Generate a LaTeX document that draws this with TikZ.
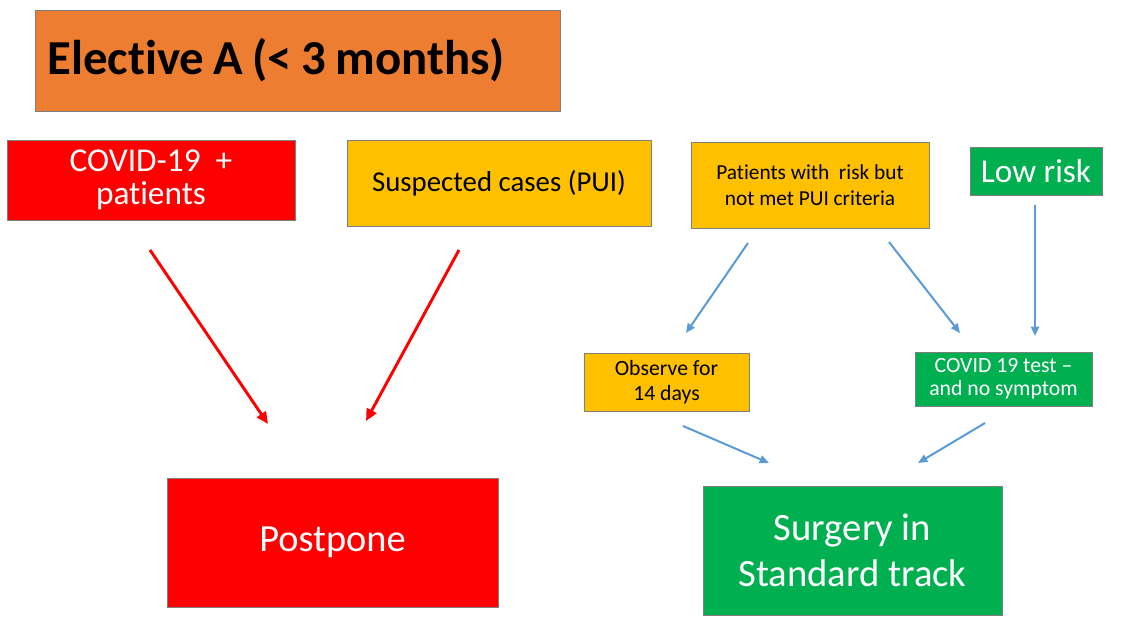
\documentclass[tikz,border=0pt]{standalone}
\usepackage{fontspec}
\setmainfont[Ligatures=NoCommon]{Carlito}
\newfontfamily\titlefont[WordSpace=0.85, Ligatures=NoCommon]{Carlito}
\usepackage{tikz}
\usetikzlibrary{arrows.meta, positioning}
\definecolor{TitleOrange}{HTML}{ED7D31}
\definecolor{StopRed}{HTML}{FF0000}
\definecolor{WaitAmber}{HTML}{FFC000}
\definecolor{GoGreen}{HTML}{00B050}
\definecolor{FlowBlue}{HTML}{5B9BD5}
\definecolor{EdgeGrey}{HTML}{7F7F7F}

\tikzset{
    box/.style={draw=EdgeGrey, line width=0.6pt, align=center, inner sep=2pt},
    redbox/.style={box, fill=StopRed, text=white},
    amberbox/.style={box, fill=WaitAmber, text=black},
    greenbox/.style={box, fill=GoGreen, text=white},
    redarrow/.style={draw=StopRed, line width=2.2pt, -{Triangle[length=9pt, width=8pt]}},
    bluearrow/.style={draw=FlowBlue, line width=1.5pt, -{Triangle[length=7pt, width=6pt]}}
}

\begin{document}
\begin{tikzpicture}[x=0.75pt, y=-0.75pt]
    \useasboundingbox (0,0) rectangle (1131,641);

    % Title
    \node[box, fill=TitleOrange, minimum width=393.75pt, minimum height=75.75pt, anchor=west,
          font=\titlefont\bfseries\fontsize{36.6pt}{40pt}\selectfont,
          inner xsep=9pt, text width=375.75pt, align=flush left]
          (title) at (35,60.5) {Elective A (< 3 months)};

    % Patient groups
    \node[redbox, minimum width=216pt, minimum height=60pt, font=\fontsize{25pt}{25pt}\selectfont]
          (positive) at (151,180) {COVID-19\ \ +\\patients};
    \node[amberbox, minimum width=228pt, minimum height=64.5pt, font=\fontsize{21.6pt}{25pt}\selectfont]
          (suspect) at (499,183) {Suspected cases (PUI)};
    \node[amberbox, minimum width=178.5pt, minimum height=64.5pt, font=\fontsize{16pt}{19.5pt}\selectfont]
          (atrisk) at (810,185) {Patients with\ \ risk but\\not met PUI criteria};
    \node[greenbox, minimum width=99pt, minimum height=36pt, font=\fontsize{25pt}{27pt}\selectfont]
          (lowrisk) at (1036,171) {Low risk};

    % Intermediate steps
    \node[amberbox, minimum width=123.75pt, minimum height=43.5pt, font=\fontsize{16.3pt}{19pt}\selectfont]
          (observe) at (666.5,382) {Observe for\\14 days};
    \node[greenbox, minimum width=132.75pt, minimum height=40.5pt, font=\fontsize{16.3pt}{17pt}\selectfont]
          (test) at (1003.5,379) {COVID 19 test --\\and no symptom};

    % Outcomes
    \node[redbox, minimum width=248.25pt, minimum height=96.75pt, font=\fontsize{28.8pt}{33pt}\selectfont]
          (postpone) at (332.5,542.5) {Postpone};
    \node[greenbox, minimum width=224.25pt, minimum height=96.75pt, font=\fontsize{29pt}{34pt}\selectfont]
          (surgery) at (852.5,550.5) {Surgery in\\Standard track};

    % Free arrow ends
    \coordinate (r1s) at (150,250);  \coordinate (r1e) at (268,424);
    \coordinate (r2s) at (459,250);  \coordinate (r2e) at (366,421);
    \coordinate (b1s) at (748,243);  \coordinate (b1e) at (686,333);
    \coordinate (b2s) at (889,242);  \coordinate (b2e) at (960,333);
    \coordinate (b3s) at (1035,205); \coordinate (b3e) at (1035,336);
    \coordinate (b4s) at (683,426);  \coordinate (b4e) at (769,463);
    \coordinate (b5s) at (985,423);  \coordinate (b5e) at (918,463);

    % Arrows
    \draw[redarrow] (r1s) -- (r1e);
    \draw[redarrow] (r2s) -- (r2e);
    \draw[bluearrow] (b1s) -- (b1e);
    \draw[bluearrow] (b2s) -- (b2e);
    \draw[bluearrow] (b3s) -- (b3e);
    \draw[bluearrow] (b4s) -- (b4e);
    \draw[bluearrow] (b5s) -- (b5e);
\end{tikzpicture}
\end{document}
